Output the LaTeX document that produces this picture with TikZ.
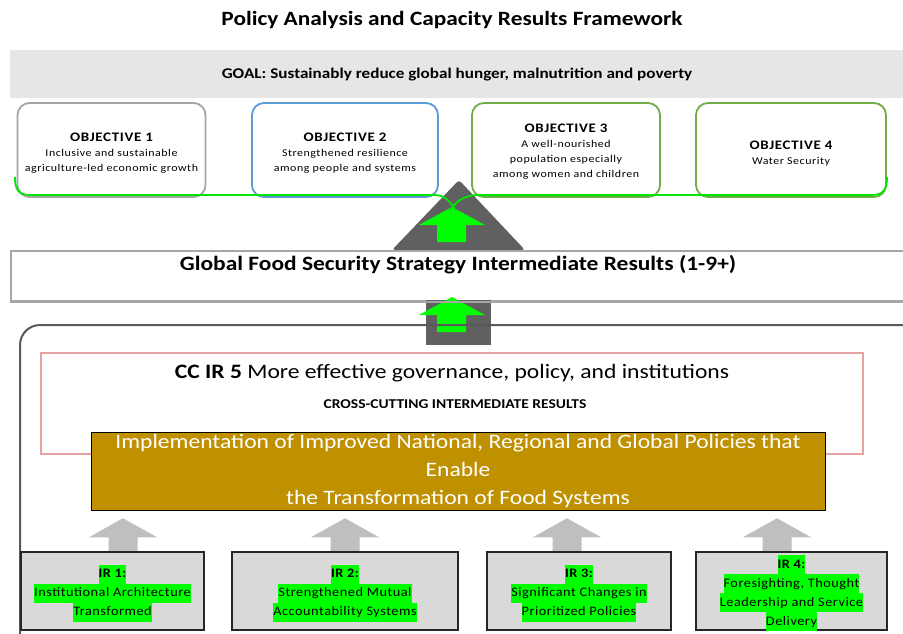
\documentclass[tikz,border=0pt]{standalone}
\usepackage{fontspec}
\setmainfont{Carlito}[FakeStretch=1.15]
\newfontfamily\widefont{Carlito}[LetterSpace=5,FakeStretch=1.15]
\newfontfamily\irfont{Carlito}[LetterSpace=4,FakeStretch=1.1]
\definecolor{goalgray}{HTML}{E6E6E6}
\definecolor{obja}{HTML}{A5A5A5}
\definecolor{objb}{HTML}{5B9BD5}
\definecolor{objc}{HTML}{70AD47}
\definecolor{brightgreen}{HTML}{00E600}
\definecolor{arrowgreen}{HTML}{00FF00}
\definecolor{darkgrayfill}{HTML}{606060}
\definecolor{boxgray}{HTML}{A6A6A6}
\definecolor{outergray}{HTML}{595959}
\definecolor{pinkline}{HTML}{E6A3A3}
\definecolor{gold}{HTML}{BF9000}
\definecolor{irfill}{HTML}{D9D9D9}
\definecolor{irline}{HTML}{262626}
\definecolor{irarrow}{HTML}{BFBFBF}
\definecolor{hlgreen}{HTML}{00FF00}
\newcommand{\irhl}[1]{{\setlength{\fboxsep}{0pt}\colorbox{hlgreen}{\strut #1}}}
\begin{document}
\begin{tikzpicture}[x=1pt,y=-1pt,
  objbox/.style={draw, line width=1.8pt, rounded corners=12pt, fill=white, minimum height=94pt, inner sep=0pt},
  objtext/.style={align=center, font=\widefont\fontsize{10.4}{15}\selectfont},
  irbox/.style={draw=irline, fill=irfill, line width=1.5pt, minimum height=78pt, inner sep=0pt},
  irtext/.style={align=center, font=\irfont\fontsize{13}{19}\selectfont, inner sep=0pt},
  grayarrow/.style={fill=irarrow},
  greenarrow/.style={fill=arrowgreen}]
\useasboundingbox (0,0) rectangle (903,633);
\fill[white] (0,0) rectangle (903,633);

% title
\node[font=\bfseries\fontsize{20.3}{24}\selectfont] (title) at (452,20) {Policy Analysis and Capacity Results Framework};

% goal
\node[fill=goalgray, minimum width=893pt, minimum height=48pt, inner sep=0pt, anchor=north west] (goal) at (10,50) {};
\node[font=\bfseries\fontsize{14.9}{18}\selectfont] (goaltext) at (457,75) {GOAL: Sustainably reduce global hunger, malnutrition and poverty};

% triangle
\coordinate (apex) at (459,180);
\fill[darkgrayfill, rounded corners=3pt] (apex) -- (392,250) -- (525,250) -- cycle;

% objectives
\node[objbox, draw=obja, minimum width=188pt] (o1) at (111.5,150) {};
\node[objbox, draw=objb, minimum width=186pt] (o2) at (345,150) {};
\node[objbox, draw=objc, minimum width=188pt] (o3) at (566,150) {};
\node[objbox, draw=objc, minimum width=190pt] (o4) at (791,150) {};
\node[objtext] (o1t) at ([yshift=-3pt]o1) {{\bfseries\fontsize{13}{15}\selectfont OBJECTIVE 1}\\Inclusive and sustainable\\agriculture-led economic growth};
\node[objtext] (o2t) at ([yshift=-3pt]o2) {{\bfseries\fontsize{13}{15}\selectfont OBJECTIVE 2}\\Strengthened resilience\\among people and systems};
\node[objtext] (o3t) at ([yshift=-2pt]o3) {{\bfseries\fontsize{13}{15}\selectfont OBJECTIVE 3}\\A well-nourished\\population especially\\among women and children};
\node[objtext] (o4t) at ([yshift=-4pt]o4) {{\bfseries\fontsize{13}{15}\selectfont OBJECTIVE 4}\\Water Security};

% green arrow 1
\fill[greenarrow] (452,207) -- (485,225) -- (466,225) -- (466,242) -- (437,242) -- (437,225) -- (419,225) -- cycle;

% green underline
\draw[brightgreen, line width=1.8pt] (15,177) .. controls (15,189) and (18,195) .. (30,195) -- (434,195) .. controls (446,195) and (450,202) .. (456,211);
\draw[brightgreen, line width=1.8pt] (887,177) .. controls (887,189) and (884,195) .. (872,195) -- (478,195) .. controls (464,195) and (455,202) .. (450,211);

% global FSS box
\node[draw=boxgray, line width=2pt, fill=white, minimum width=900pt, minimum height=50pt, inner sep=0pt, anchor=north west] (gfss) at (10,250) {};
\node[font=\bfseries\fontsize{20.4}{24}\selectfont] (gfsstext) at (458,265) {Global Food Security Strategy Intermediate Results (1-9+)};

% connector block
\node[fill=darkgrayfill, minimum width=65pt, minimum height=45pt, inner sep=0pt, anchor=north] (conn) at (458.5,300) {};
\fill[greenarrow] (452,297) -- (485,315) -- (466,315) -- (466,332) -- (437,332) -- (437,315) -- (419,315) -- cycle;
\draw[boxgray, line width=2pt] (gfss.south west) -- (gfss.south east);

% outer rounded frame
\draw[outergray, line width=2pt, rounded corners=20pt] (20,660) -- (20,325) -- (930,325);

% CC IR 5
\node[draw=pinkline, line width=2pt, fill=white, minimum width=822pt, minimum height=101pt, inner sep=0pt, anchor=north west] (ccir) at (40,352) {};
\node[font=\fontsize{20.5}{24}\selectfont] (cctext) at (452,373) {{\bfseries CC IR 5} More effective governance, policy, and institutions};
\node[font=\bfseries\fontsize{13.5}{16}\selectfont] (cross) at (455,404) {CROSS-CUTTING INTERMEDIATE RESULTS};

% gold box
\node[draw=black, line width=1.2pt, fill=gold, minimum width=734pt, minimum height=78pt, inner sep=0pt, anchor=north west] (gold) at (91,432) {};
\node[text=white, align=center, font=\fontsize{20.5}{28}\selectfont] (goldtext) at (458,471) {Implementation of Improved National, Regional and Global Policies that\\Enable\\the Transformation of Food Systems};

% IR boxes
\node[irbox, minimum width=183pt] (ir1) at (112.5,591) {};
\node[irbox, minimum width=226pt] (ir2) at (345,591) {};
\node[irbox, minimum width=184pt] (ir3) at (579,591) {};
\node[irbox, minimum width=191pt] (ir4) at (791.5,591) {};

% gray arrows
\foreach \b/\dx in {ir1/10.5, ir2/0, ir3/-12, ir4/-14.5}{
  \fill[grayarrow] ([xshift=\dx pt]\b.north) ++(0,-33) -- ++(34,19) -- ++(-19.5,0) -- ++(0,14.5) -- ++(-29,0) -- ++(0,-14.5) -- ++(-19.5,0) -- cycle;
  \draw[irline, line width=1.5pt] (\b.north west) -- (\b.north east);
}

\node[irtext] (ir1t) at ([yshift=-2pt]ir1) {\irhl{\bfseries IR 1:}\\\irhl{Institutional Architecture}\\\irhl{Transformed}};
\node[irtext] (ir2t) at ([yshift=-2pt]ir2) {\irhl{\bfseries IR 2:}\\\irhl{Strengthened Mutual}\\\irhl{Accountability Systems}};
\node[irtext] (ir3t) at ([yshift=-2pt]ir3) {\irhl{\bfseries IR 3:}\\\irhl{Significant Changes in}\\\irhl{Prioritized Policies}};
\node[irtext] (ir4t) at ([yshift=-2pt]ir4) {\irhl{\bfseries IR 4:}\\\irhl{Foresighting, Thought}\\\irhl{Leadership and Service}\\\irhl{Delivery}};
\end{tikzpicture}
\end{document}
